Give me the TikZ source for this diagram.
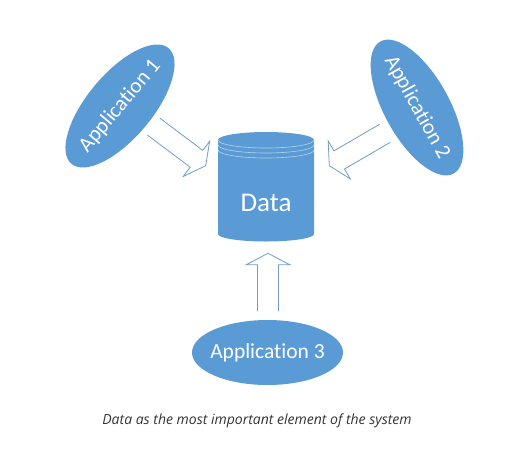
\documentclass[tikz,border=0pt]{standalone}
\usepackage{fontspec}
\setmainfont{Carlito}[Ligatures=NoCommon]
\newfontfamily\capfont{Open Sans}
\usepackage{tikz}
\usetikzlibrary{shapes.geometric, calc}

\definecolor{appblue}{HTML}{5B9BD5}
\definecolor{arrowblue}{HTML}{6E9CCB}
\definecolor{captext}{HTML}{333333}

\newcommand{\hollowarrow}[2]{%
\coordinate (#1-h) at ($(#2)!11.5pt!(#1)$);
\draw[arrowline] ($(#1)!10.5pt!90:(#2)$) -- ($(#1-h)!10.5pt!90:(#2)$) -- ($(#1-h)!22pt!90:(#2)$) -- (#2)
  -- ($(#1-h)!22pt!-90:(#2)$) -- ($(#1-h)!10.5pt!-90:(#2)$) -- ($(#1)!10.5pt!-90:(#2)$);
}

\begin{document}
\begin{tikzpicture}[x=1pt, y=-1pt,
  appnode/.style={ellipse, fill=appblue, minimum width=151pt, minimum height=65pt, inner sep=0pt, text=white, font=\fontsize{21.5}{24}\selectfont},
  arrowline/.style={draw=arrowblue, line width=0.8pt, line join=miter},
  diskline/.style={draw=white, opacity=0.55, line width=0.6pt}]
\useasboundingbox (0,0) rectangle (524,448);

\fill[appblue] (218,140) -- (218,234) arc (180:0:48 and 7.5) -- (314,140) arc (360:180:48 and 8) -- cycle;
\draw[diskline] (218,140) arc (180:0:48 and 8);
\draw[diskline] (218,145) arc (180:0:48 and 8);
\draw[diskline] (218,150) arc (180:0:48 and 8);
\node[text=white, font=\fontsize{27}{30}\selectfont] (data) at (266,203) {Data};

\node[appnode, rotate=50] (app1) at (120,106) {\makebox[0pt]{Application 1}};
\node[appnode, rotate=-61] (app2) at (417,107.5) {\makebox[0pt]{Application 2}};
\node[appnode] (app3) at (267.5,352.5) {\makebox[0pt]{Application 3}};

\coordinate (a1) at (153.7,126.7);
\coordinate (t1) at (205.7,165.7);
\coordinate (a2) at (385,133.3);
\coordinate (t2) at (329.3,165.7);
\coordinate (a3) at (268,311);
\coordinate (t3) at (268,253.3);
\hollowarrow{a1}{t1}
\hollowarrow{a2}{t2}
\hollowarrow{a3}{t3}

\node[text=captext, font=\capfont\itshape\fontsize{14}{16}\selectfont] (caption) at (257,421) {Data as the most important element of the system};
\end{tikzpicture}
\end{document}
